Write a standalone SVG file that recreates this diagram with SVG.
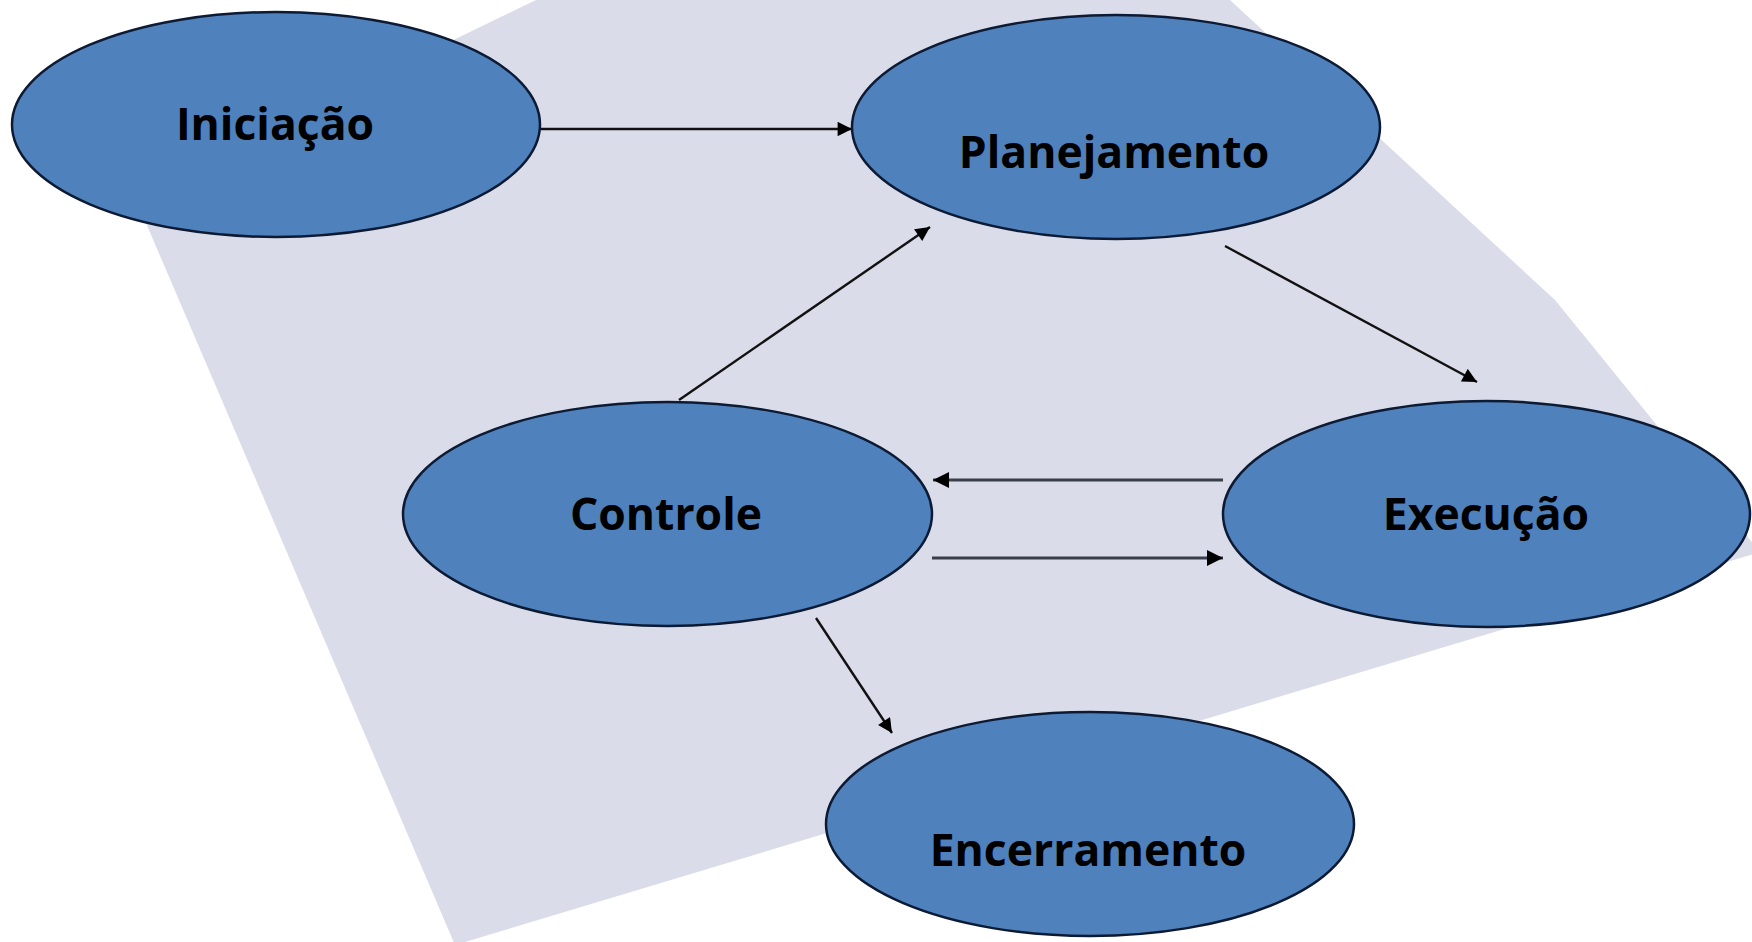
<svg xmlns="http://www.w3.org/2000/svg" width="1752" height="942" viewBox="0 0 1752 942">
  <defs>
    <style>
      .node ellipse { fill: #4f81bd; stroke: #0d1a33; stroke-width: 2.5; }
      .node text { font-family: "Open Sans", "Noto Sans", "Liberation Sans", sans-serif; font-weight: 700; font-size: 44.5px; fill: #000; text-anchor: middle; }
      .edge { stroke: #111; stroke-width: 2.4; fill: none; }
      .edge-thick { stroke: #3a3d4a; stroke-width: 3.2; fill: none; }
    </style>
    <marker id="arrow" viewBox="0 0 10 10" refX="10" refY="5" markerWidth="7" markerHeight="6" markerUnits="strokeWidth" orient="auto">
      <path d="M0,0 L10,5 L0,10 Z" fill="#000"/>
    </marker>
    <marker id="arrow2" viewBox="0 0 10 10" refX="10" refY="5" markerWidth="5.5" markerHeight="5" markerUnits="strokeWidth" orient="auto">
      <path d="M0,0 L10,5 L0,10 Z" fill="#000"/>
    </marker>
  </defs>
  <rect width="1752" height="942" fill="#ffffff"/>
  <polygon id="background-plane" points="536,0 1230,0 1555,300 1760,552 455,945 134,195" fill="#dadcea"/>
  <g id="connectors">
    <line class="edge" x1="541" y1="129" x2="852" y2="129" marker-end="url(#arrow)"/>
    <line class="edge" x1="679" y1="400" x2="930" y2="227" marker-end="url(#arrow)"/>
    <line class="edge" x1="1225" y1="246" x2="1477" y2="382" marker-end="url(#arrow)"/>
    <line class="edge-thick" x1="1223" y1="480" x2="933" y2="480" marker-end="url(#arrow2)"/>
    <line class="edge-thick" x1="932" y1="558" x2="1223" y2="558" marker-end="url(#arrow2)"/>
    <line class="edge" x1="816" y1="618" x2="892" y2="733" marker-end="url(#arrow)"/>
  </g>
  <g id="node-iniciacao" class="node">
    <ellipse cx="276" cy="124.5" rx="264" ry="112.5"/>
    <text x="275" y="140">Iniciação</text>
  </g>
  <g id="node-planejamento" class="node">
    <ellipse cx="1116" cy="127" rx="264" ry="112"/>
    <text x="1114" y="168">Planejamento</text>
  </g>
  <g id="node-controle" class="node">
    <ellipse cx="667.5" cy="514" rx="264.5" ry="112"/>
    <text x="666" y="530">Controle</text>
  </g>
  <g id="node-execucao" class="node">
    <ellipse cx="1486.5" cy="514" rx="263.5" ry="113"/>
    <text x="1486" y="530">Execução</text>
  </g>
  <g id="node-encerramento" class="node">
    <ellipse cx="1090" cy="824" rx="264" ry="112"/>
    <text x="1088" y="866">Encerramento</text>
  </g>
</svg>
